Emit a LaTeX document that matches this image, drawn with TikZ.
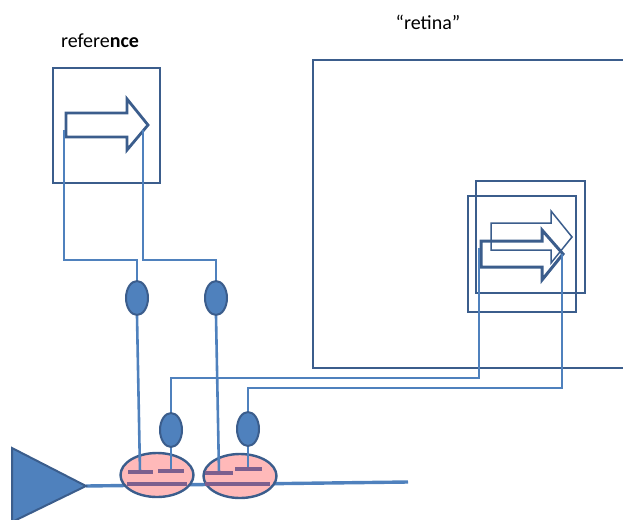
\documentclass[tikz,border=0pt]{standalone}
\usepackage{fontspec}
\setmainfont{Carlito}
\usetikzlibrary{shapes.geometric}
\definecolor{wireblue}{HTML}{4F81BD}
\definecolor{boxblue}{HTML}{3B5D8C}
\definecolor{synpink}{HTML}{FFB9B9}
\definecolor{barpurple}{HTML}{7D5F8E}
\tikzset{
  frame/.style={draw=boxblue, line width=2.8pt},
  wire/.style={draw=wireblue, line width=2.6pt},
  axon/.style={draw=wireblue, line width=3.4pt},
  bar/.style={draw=barpurple, line width=3.4pt},
  bead/.style={ellipse, draw=boxblue, fill=wireblue, line width=2pt, minimum width=22pt, minimum height=34pt, inner sep=0pt},
  synapse/.style={ellipse, draw=boxblue, fill=synpink, line width=2.4pt, minimum width=73pt, minimum height=44pt, inner sep=0pt},
  lbl/.style={font=\fontsize{20}{24}\selectfont}
}
\begin{document}
\begin{tikzpicture}[x=1pt, y=-1pt]
      \useasboundingbox (0,0) rectangle (623,519);
      \clip (0,0) rectangle (623,519);
      % reference
      \node[lbl] (reflbl) at (100,41) {refere\textbf{nce}};
      \draw[frame] (53,68) rectangle (160,183);
      \draw[frame] (66,113) -- (127,113) -- (127,99) -- (148,125) -- (127,150) -- (127,137) -- (66,137) -- cycle;
      \coordinate (rt1) at (64,130);
      \coordinate (rt2) at (143,130);
      % retina
      \node[lbl] (retlbl) at (428,22) {“retina”};
      \draw[frame] (640,60) -- (313,60) -- (313,368) -- (640,368);
      \draw[boxblue, line width=1.8pt] (476,181) rectangle (585,293);
      \draw[frame] (468,196) rectangle (576,312);
      \draw[boxblue, line width=1.5pt] (491,223) -- (551,223) -- (551,211) -- (572,237) -- (551,263) -- (551,250) -- (491,250) -- cycle;
      \draw[frame, line width=3pt] (481,241) -- (542,241) -- (542,230) -- (563,254) -- (542,280) -- (542,267) -- (481,267) -- cycle;
      \coordinate (ct1) at (479,248);
      \coordinate (ct2) at (562,254);
      % neuron
      \coordinate (soma) at (86,486);
      \coordinate (axend) at (408,482);
      \draw[axon] (soma) -- (axend);
      \fill[wireblue] (12,448) -- (soma) -- (12,522) -- cycle;
      \draw[boxblue, line width=2pt] (12,522) -- (12,448) -- (soma) -- (12,522);
      \node[synapse] (syn1) at (157,475) {};
      \node[synapse] (syn2) at (240,476) {};
      % beads
      \node[bead] (ba) at (137,298) {};
      \node[bead] (bb) at (216,298) {};
      \node[bead] (bc) at (171,430) {};
      \node[bead] (bd) at (248,429) {};
      % wires
      \draw[wire] (rt1) -- ++(0,130) -| (ba.north);
      \draw[wire] (rt2) -- ++(0,130) -| (bb.north);
      \draw[wire] (ct1) -- ++(0,130) -| (bc.north);
      \draw[wire] (ct2) -- ++(0,134) -| (bd.north);
      \draw[wire] (ba.south) -- (140,472);
      \draw[wire] (bb.south) -- (219,473);
      \draw[wire] (bc.south) -- (171,471);
      \draw[wire] (bd.south) -- (248,469);
      % synapse bars
      \draw[bar] (127,484) -- (187,484);
      \draw[bar] (128,472) -- (153,472);
      \draw[bar] (158,471) -- (184,471);
      \draw[bar] (205,484) -- (270,484);
      \draw[bar] (205,473) -- (233,473);
      \draw[bar] (235,469) -- (262,469);
\end{tikzpicture}
\end{document}
